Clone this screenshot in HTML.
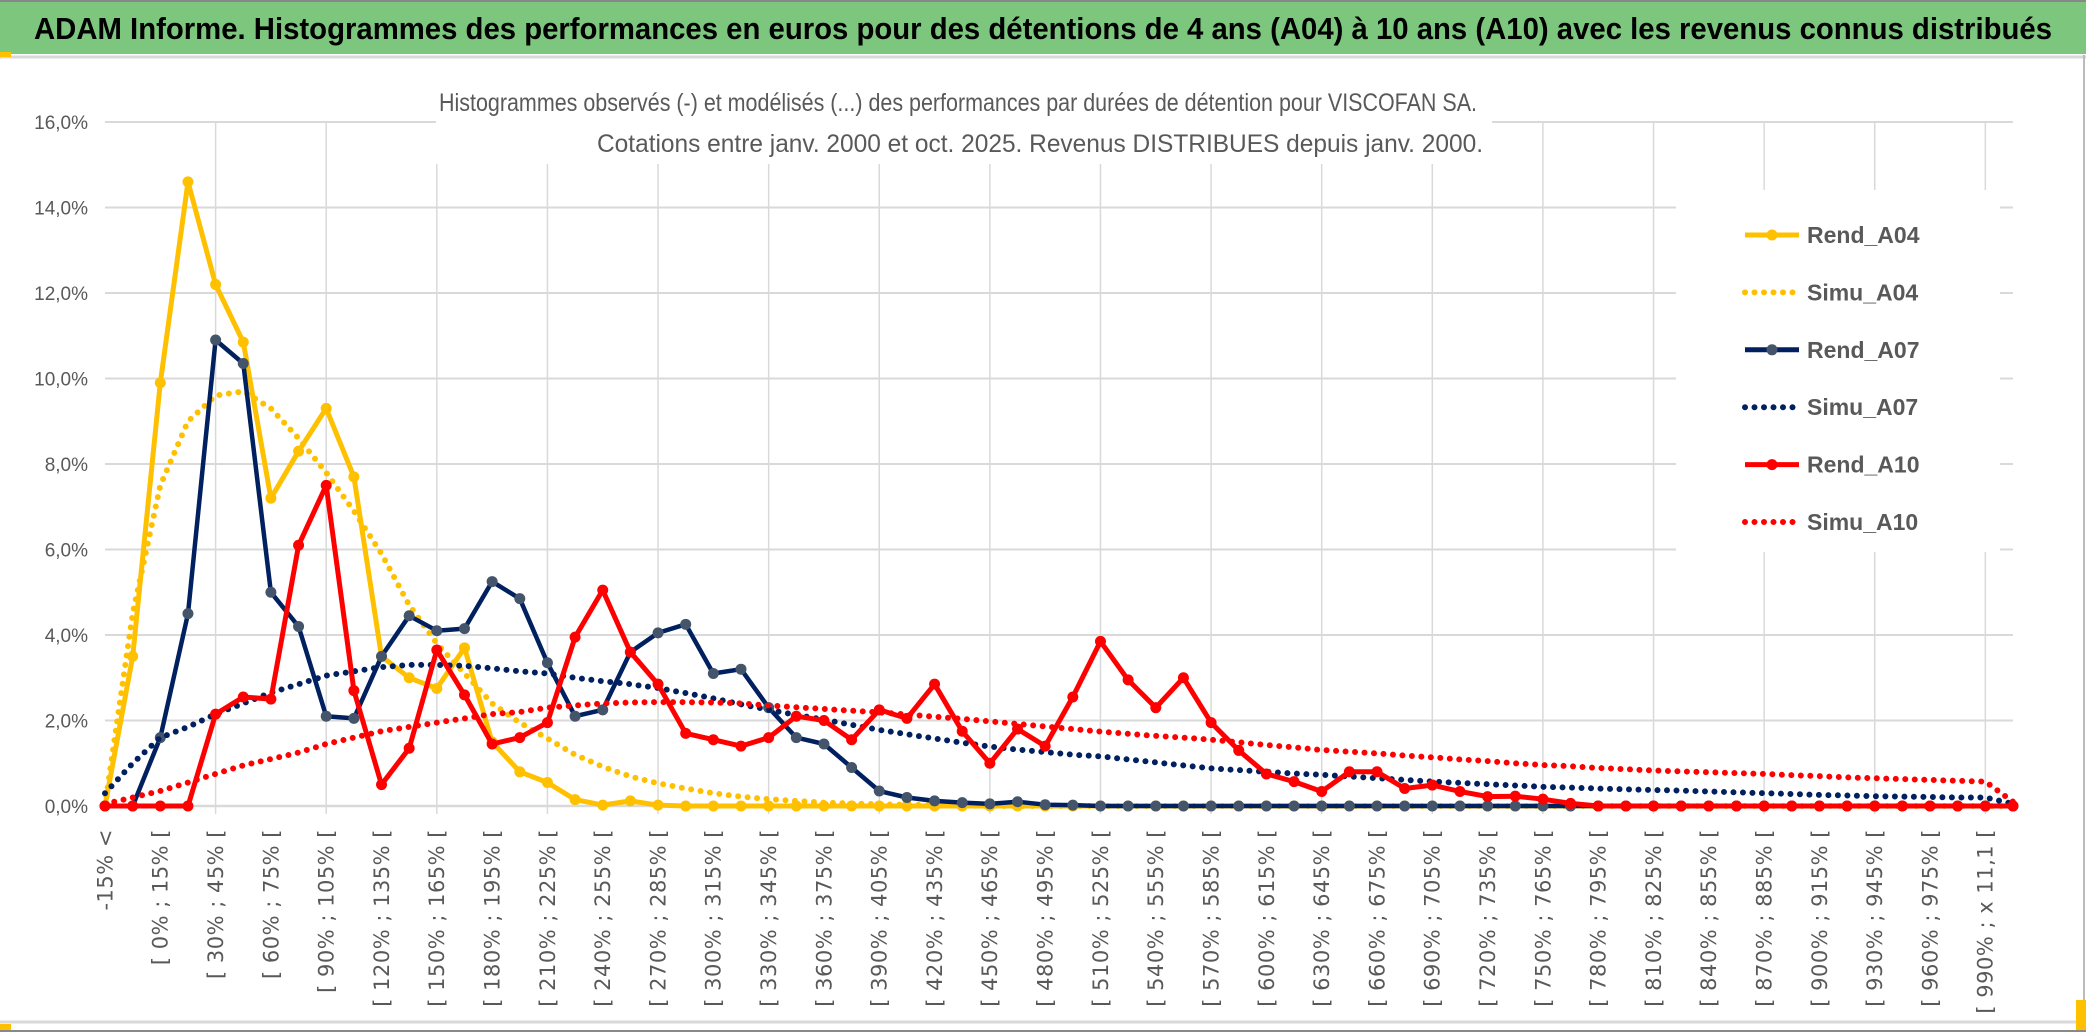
<!DOCTYPE html>
<html><head><meta charset="utf-8"><style>
html,body{margin:0;padding:0;background:#fff;}
svg{display:block;}
</style></head><body>
<svg width="2086" height="1033" viewBox="0 0 2086 1033" xmlns="http://www.w3.org/2000/svg">
<rect x="0" y="0" width="2086" height="1033" fill="#fff"/>
<rect x="0" y="2" width="2086" height="52" fill="#7DC67E"/>
<line x1="0" y1="1" x2="2086" y2="1" stroke="#888" stroke-width="2"/>
<line x1="0" y1="57" x2="2086" y2="57" stroke="#d9d9d9" stroke-width="3"/>
<rect x="0" y="52" width="11" height="5" fill="#FFC000"/>
<line x1="2084" y1="55" x2="2084" y2="1030" stroke="#bbb" stroke-width="2"/>
<line x1="0" y1="1022" x2="2086" y2="1022" stroke="#d9d9d9" stroke-width="3"/>
<line x1="0" y1="1031" x2="2086" y2="1031" stroke="#888" stroke-width="2"/>
<rect x="0" y="1024" width="11" height="6" fill="#FFC000"/>
<rect x="2076" y="1000" width="10" height="30" fill="#FFC000"/>
<text x="1043" y="39" text-anchor="middle" font-family="Liberation Sans, sans-serif" font-weight="bold" font-size="31" fill="#000" textLength="2018" lengthAdjust="spacingAndGlyphs">ADAM Informe. Histogrammes des performances en euros pour des détentions de 4 ans (A04) à 10 ans (A10) avec les revenus connus distribués</text>
<g id="grid"></g>
<rect x="436" y="60" width="1056" height="104" fill="#fff"/>
<rect x="1676" y="190" width="324" height="362" fill="#fff"/>
<text x="958" y="111" text-anchor="middle" font-family="Liberation Sans, sans-serif" font-size="25" fill="#595959" textLength="1038" lengthAdjust="spacingAndGlyphs">Histogrammes observés (-) et modélisés (...) des performances par durées de détention pour VISCOFAN SA.</text>
<text x="1040" y="152" text-anchor="middle" font-family="Liberation Sans, sans-serif" font-size="25" fill="#595959" textLength="886" lengthAdjust="spacingAndGlyphs">Cotations entre janv. 2000 et oct. 2025. Revenus DISTRIBUES depuis janv. 2000.</text>
<g id="yaxis"></g>
<g id="xaxis"></g>
<g id="series"></g>
<g id="legend"></g>
</svg>
<script>
const yTicks = [0, 2, 4, 6, 8, 10, 12, 14, 16];
const yTickLabels = ["0,0%","2,0%","4,0%","6,0%","8,0%","10,0%","12,0%","14,0%","16,0%"];
const categories = (function(){
  const c = ["-15% <", "[ -15% ; 0% ["];
  for (let k = 0; k < 66; k++) c.push("[ " + (15*k) + "% ; " + (15*k+15) + "% [");
  c.push("[ 990% ; x 11,1 [");
  c.push("> x 11,1");
  return c;
})();
const rendA04 = [0,3.5,9.9,14.6,12.2,10.85,7.2,8.3,9.3,7.7,3.5,3.0,2.75,3.7,1.5,0.8,0.55,0.15,0.02,0.12,0.02,0,0,0,0,0,0,0,0,0,0,0,0,0,0,0,0,0,0,0,0,0,0,0,0,0,0,0,0,0,0,0,0,0,0,0,0,0,0,0,0,0,0,0,0,0,0,0,0,0];
const simuA04 = [0,4.5,7.5,9.0,9.6,9.7,9.3,8.6,7.8,6.9,5.9,4.7,3.8,3.1,2.4,1.95,1.58,1.2,0.92,0.69,0.53,0.41,0.3,0.22,0.16,0.12,0.08,0.06,0.04,0.03,0.02,0.01,0,0,0,0,0,0,0,0,0,0,0,0,0,0,0,0,0,0,0,0,0,0,0,0,0,0,0,0,0,0,0,0,0,0,0,0,0,0];
const rendA07 = [0,0,1.6,4.5,10.9,10.35,5.0,4.2,2.1,2.05,3.5,4.45,4.1,4.15,5.25,4.85,3.35,2.1,2.25,3.6,4.05,4.25,3.1,3.2,2.3,1.6,1.45,0.9,0.35,0.2,0.12,0.08,0.05,0.1,0.03,0.02,0,0,0,0,0,0,0,0,0,0,0,0,0,0,0,0,0,0,0,0,0,0,0,0,0,0,0,0,0,0,0,0,0,0];
const simuA07 = [0.3,1.0,1.6,1.85,2.15,2.4,2.65,2.85,3.05,3.15,3.25,3.3,3.3,3.28,3.22,3.15,3.1,3.0,2.92,2.85,2.76,2.64,2.52,2.38,2.25,2.13,2.02,1.9,1.78,1.68,1.58,1.48,1.39,1.32,1.26,1.2,1.16,1.09,1.02,0.95,0.88,0.84,0.8,0.76,0.73,0.69,0.65,0.61,0.57,0.54,0.51,0.48,0.45,0.43,0.41,0.39,0.375,0.36,0.34,0.32,0.3,0.28,0.26,0.245,0.23,0.22,0.21,0.2,0.2,0.05];
const rendA10 = [0,0,0,0,2.15,2.55,2.5,6.1,7.5,2.7,0.5,1.35,3.65,2.6,1.45,1.6,1.95,3.95,5.05,3.6,2.85,1.7,1.55,1.4,1.6,2.1,2.0,1.55,2.25,2.05,2.85,1.75,1.0,1.8,1.4,2.55,3.85,2.95,2.3,3.0,1.95,1.3,0.75,0.57,0.34,0.8,0.8,0.41,0.49,0.34,0.22,0.23,0.16,0.06,0,0,0,0,0,0,0,0,0,0,0,0,0,0,0,0];
const simuA10 = [0.05,0.2,0.35,0.55,0.75,0.95,1.1,1.25,1.45,1.6,1.75,1.85,1.95,2.05,2.15,2.2,2.3,2.35,2.4,2.42,2.43,2.43,2.42,2.4,2.35,2.31,2.27,2.23,2.19,2.14,2.09,2.04,1.98,1.92,1.86,1.8,1.74,1.69,1.64,1.6,1.55,1.49,1.43,1.37,1.31,1.27,1.23,1.18,1.14,1.09,1.05,1.0,0.96,0.93,0.89,0.86,0.83,0.81,0.79,0.77,0.75,0.72,0.7,0.67,0.65,0.63,0.61,0.59,0.57,0.1];

const NS = "http://www.w3.org/2000/svg";
const X0 = 105, X1 = 2013, Y0 = 806, PERCENT = 42.75;
const n = categories.length;
function xS(i){ return X0 + i * (X1 - X0) / (n - 1); }
function yS(v){ return Y0 - v * PERCENT; }
function mk(tag, parent){ const e = document.createElementNS(NS, tag); parent.appendChild(e); return e; }

const grid = document.getElementById('grid');
yTicks.forEach((t, k) => {
  const l = mk('line', grid);
  
  
  l.setAttribute('x1', X0); l.setAttribute('x2', X1);
  l.setAttribute('y1', yS(t)); l.setAttribute('y2', yS(t));
  l.setAttribute('stroke', '#d9d9d9'); l.setAttribute('stroke-width', k === 0 ? 2.5 : 2);
});
for (let i = 4; i < n; i += 4) {
  const l = mk('line', grid);
  
  
  l.setAttribute('x1', xS(i)); l.setAttribute('x2', xS(i));
  l.setAttribute('y1', yS(16)); l.setAttribute('y2', Y0 + 8);
  l.setAttribute('stroke', '#d9d9d9'); l.setAttribute('stroke-width', 1.5);
}
const ya = document.getElementById('yaxis');
yTicks.forEach((t, k) => {
  const tx = mk('text', ya);
  
  
  tx.setAttribute('x', 88); tx.setAttribute('y', yS(t) + 7);
  tx.setAttribute('text-anchor', 'end');
  tx.setAttribute('font-family', 'Liberation Sans, sans-serif');
  tx.setAttribute('font-size', '19'); tx.setAttribute('fill', '#595959');
  tx.textContent = yTickLabels[k];
});
const xa = document.getElementById('xaxis');
categories.forEach((c, i) => {
  if (i % 2 !== 0) return;
  const tx = mk('text', xa);
  
  
  tx.setAttribute('transform', 'translate(' + xS(i) + ',829) rotate(-90)');
  tx.setAttribute('text-anchor', 'end'); tx.setAttribute('dy', '0.35em');
  tx.setAttribute('font-family', 'DejaVu Sans, sans-serif');
  tx.setAttribute('font-size', '21'); tx.setAttribute('letter-spacing', '0.5');
  tx.setAttribute('fill', '#595959');
  tx.textContent = c;
});
const sg = document.getElementById('series');
function pts(arr){ return arr.map((v, i) => xS(i).toFixed(1) + ',' + yS(v).toFixed(1)).join(' '); }
function solid(arr, color, mcolor, name, w){
  const p = mk('polyline', sg);
  
  
  p.setAttribute('points', pts(arr)); p.setAttribute('fill', 'none');
  p.setAttribute('stroke', color); p.setAttribute('stroke-width', w);
  p.setAttribute('stroke-linejoin', 'round');
  arr.forEach((v, i) => {
    const c = mk('circle', sg);
    
    
    c.setAttribute('cx', xS(i)); c.setAttribute('cy', yS(v)); c.setAttribute('r', 5.5);
    c.setAttribute('fill', mcolor);
  });
}
function dotted(arr, color, name){
  const p = mk('polyline', sg);
  
  
  p.setAttribute('points', pts(arr)); p.setAttribute('fill', 'none');
  p.setAttribute('stroke', color); p.setAttribute('stroke-width', 6);
  p.setAttribute('stroke-linecap', 'round'); p.setAttribute('stroke-dasharray', '0 9.5');
}
solid(rendA04, '#FFC000', '#FFC000', 'rend-a04', 5);
dotted(simuA04, '#FFC000', 'simu-a04');
solid(rendA07, '#002060', '#44546A', 'rend-a07', 4.5);
dotted(simuA07, '#002060', 'simu-a07');
solid(rendA10, '#FF0000', '#FF0000', 'rend-a10', 5);
dotted(simuA10, '#FF0000', 'simu-a10');

const legendNames = ["Rend_A04","Simu_A04","Rend_A07","Simu_A07","Rend_A10","Simu_A10"];
const legendColors = ["#FFC000","#FFC000","#002060","#002060","#FF0000","#FF0000"];
const lg = document.getElementById('legend');
legendNames.forEach((nm, k) => {
  const y = 235 + k * 57.4;
  const l = mk('line', lg);
  
  
  l.setAttribute('x1', 1745); l.setAttribute('x2', 1799);
  l.setAttribute('y1', y); l.setAttribute('y2', y);
  l.setAttribute('stroke', legendColors[k]);
  if (k % 2 === 0) {
    l.setAttribute('stroke-width', 5);
    const c = mk('circle', lg);
    
    
    c.setAttribute('cx', 1772); c.setAttribute('cy', y); c.setAttribute('r', 5.5);
    c.setAttribute('fill', k === 2 ? '#44546A' : legendColors[k]);
  } else {
    l.setAttribute('stroke-width', 6); l.setAttribute('stroke-linecap', 'round');
    l.setAttribute('stroke-dasharray', '0 9.5');
  }
  const t = mk('text', lg);
  
  
  t.setAttribute('x', 1807); t.setAttribute('y', y + 8);
  t.setAttribute('font-family', 'Liberation Sans, sans-serif');
  t.setAttribute('font-size', '23'); t.setAttribute('font-weight', 'bold');
  t.setAttribute('fill', '#595959');
  t.textContent = nm;
});
</script>
</body></html>
